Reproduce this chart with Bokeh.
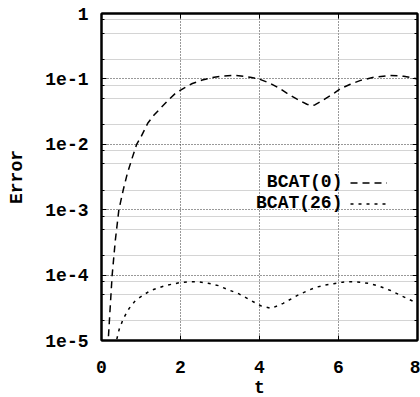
from bokeh.plotting import figure
from bokeh.models import (FixedTicker, LinearAxis, LogAxis, Range1d, Label,
                          Legend, LegendItem, CustomJSTickFormatter)
from bokeh.core.properties import value
from bokeh.embed import file_html
from bokeh.resources import INLINE

# Error history of the two schemes over time t
t_bcat0 = [0.15, 0.17, 0.22, 0.27, 0.35, 0.44, 0.55, 0.65, 0.77, 0.89, 1.0, 1.17,
           1.33, 1.5, 1.7, 1.87, 2.1, 2.3, 2.55, 2.8, 3.1, 3.4, 3.6, 3.8, 4.0,
           4.28, 4.5, 4.7, 4.95, 5.2, 5.3, 5.4, 5.55, 5.72, 5.9, 6.05, 6.3,
           6.56, 6.9, 7.3, 7.65, 8.0]
err_bcat0 = [5e-6, 1e-5, 3.2e-5, 1e-4, 3.4e-4, 1e-3, 2.0e-3, 3.5e-3, 6.0e-3,
             1.0e-2, 1.3e-2, 2.1e-2, 2.8e-2, 3.6e-2, 4.8e-2, 6.0e-2, 7.3e-2,
             8.5e-2, 9.6e-2, 0.105, 0.111, 0.113, 0.110, 0.105, 0.099, 0.085,
             0.072, 0.060, 0.049, 0.041, 0.039, 0.040, 0.045, 0.052, 0.061,
             0.071, 0.083, 0.095, 0.106, 0.113, 0.110, 0.100]

t_bcat26 = [0.33, 0.38, 0.45, 0.56, 0.7, 0.86, 1.07, 1.24, 1.45, 1.62, 1.8, 2.0,
            2.25, 2.45, 2.7, 2.96, 3.2, 3.47, 3.75, 4.03, 4.3, 4.6, 4.96, 5.2,
            5.42, 5.65, 5.88, 6.1, 6.3, 6.55, 6.8, 7.05, 7.32, 7.6, 8.0]
err_bcat26 = [8e-6, 1.0e-5, 1.5e-5, 2.2e-5, 3.1e-5, 4.1e-5, 5.0e-5, 5.8e-5,
              6.4e-5, 6.9e-5, 7.3e-5, 7.7e-5, 7.9e-5, 7.9e-5, 7.5e-5, 6.9e-5,
              6.0e-5, 5.2e-5, 4.2e-5, 3.4e-5, 3.1e-5, 3.7e-5, 4.9e-5, 5.7e-5,
              6.5e-5, 7.0e-5, 7.4e-5, 7.8e-5, 7.9e-5, 7.8e-5, 7.4e-5, 6.7e-5,
              5.8e-5, 4.8e-5, 3.7e-5]

series_names = ["BCAT(0)", "BCAT(26)"]

x_ticks = [0, 2, 4, 6, 8]
y_ticks = [1e-5, 1e-4, 1e-3, 1e-2, 1e-1, 1.0]
y_tick_labels = ["1e-5", "1e-4", "1e-3", "1e-2", "1e-1", "1"]
y_minor = [m * 10.0 ** k for k in range(-5, 0) for m in (2, 5, 8)]

FONT = "Liberation Mono"
FS = "18px"

# fixed frame, borders sized so the canvas is 420 x 397
p = figure(frame_width=316, frame_height=327, y_axis_type="log",
           x_range=Range1d(0, 8), y_range=Range1d(1e-5, 1),
           output_backend="svg", toolbar_location=None, title=None,
           min_border_left=101, min_border_right=3, min_border_top=13,
           min_border_bottom=57)
p.background_fill_color = "white"
p.border_fill_color = "white"
p.outline_line_color = "black"
p.outline_line_width = 2

x_ticker = FixedTicker(ticks=x_ticks, minor_ticks=[])
y_ticker = FixedTicker(ticks=y_ticks, minor_ticks=y_minor)

y_fmt = CustomJSTickFormatter(args=dict(vals=y_ticks, labels=y_tick_labels), code="""
    for (let i = 0; i < vals.length; i++) {
        if (Math.abs(Math.log10(vals[i]) - Math.log10(tick)) < 1e-6) return labels[i];
    }
    return "";
""")
blank_fmt = CustomJSTickFormatter(code='return "";')


def style_axis(ax):
    ax.axis_line_width = 2
    ax.axis_line_color = "black"
    ax.major_tick_in = 5
    ax.major_tick_out = 0
    ax.minor_tick_in = 3
    ax.minor_tick_out = 0
    ax.major_tick_line_color = "black"
    ax.minor_tick_line_color = "black"
    ax.major_label_text_font = FONT
    ax.major_label_text_font_style = "bold"
    ax.major_label_text_font_size = FS
    ax.major_label_text_color = "black"
    ax.axis_label_text_font = FONT
    ax.axis_label_text_font_style = "bold"
    ax.axis_label_text_font_size = FS
    ax.axis_label_text_color = "black"


xa = p.xaxis[0]
xa.ticker = x_ticker
xa.axis_label = "t"
style_axis(xa)
xa.major_label_standoff = 20
xa.axis_label_standoff = 2

ya = p.yaxis[0]
ya.ticker = y_ticker
ya.formatter = y_fmt
ya.axis_label = "Error"
style_axis(ya)
ya.major_label_standoff = 13
ya.axis_label_standoff = 15

# tick-only frame sides
top = LinearAxis(ticker=x_ticker, formatter=blank_fmt)
style_axis(top)
top.major_label_text_font_size = "1px"
top.major_label_standoff = 0
p.add_layout(top, "above")

right = LogAxis(ticker=y_ticker, formatter=blank_fmt)
style_axis(right)
right.major_label_text_font_size = "1px"
right.major_label_standoff = 0
p.add_layout(right, "right")

# dotted grid: decades and x ticks dark, 2/5/8 sub-decades light
p.xgrid[0].ticker = x_ticker
p.xgrid[0].grid_line_color = "#333333"
p.xgrid[0].grid_line_dash = "1 2"
p.ygrid[0].ticker = y_ticker
p.ygrid[0].grid_line_color = "#333333"
p.ygrid[0].grid_line_dash = "1 2"
p.ygrid[0].minor_grid_line_color = "#a8a8a8"
p.ygrid[0].minor_grid_line_dash = "1 1"

r0 = p.line(t_bcat0, err_bcat0, line_color="black", line_width=1.5,
            line_dash="7 5")
r26 = p.line(t_bcat26, err_bcat26, line_color="black", line_width=1.5,
             line_dash="3 5")

# key: line samples to the right of right-aligned names
legend = Legend(items=[LegendItem(label=value(" "), renderers=[r0]),
                       LegendItem(label=value(" "), renderers=[r26])],
                location=(249, 126.5), glyph_width=37, glyph_height=21,
                label_width=0, label_height=21, label_standoff=0,
                label_text_font_size="2px", padding=0, spacing=0, margin=0,
                border_line_alpha=0, background_fill_alpha=0)
p.add_layout(legend)

for name, yv in zip(series_names, [2.61e-3, 1.245e-3]):
    p.add_layout(Label(x=6.1, y=yv, text=name, text_align="right",
                       text_baseline="middle", text_font=FONT,
                       text_font_style="bold", text_font_size=FS,
                       text_color="black"))

open("out.html", "w").write(file_html(p, INLINE))
